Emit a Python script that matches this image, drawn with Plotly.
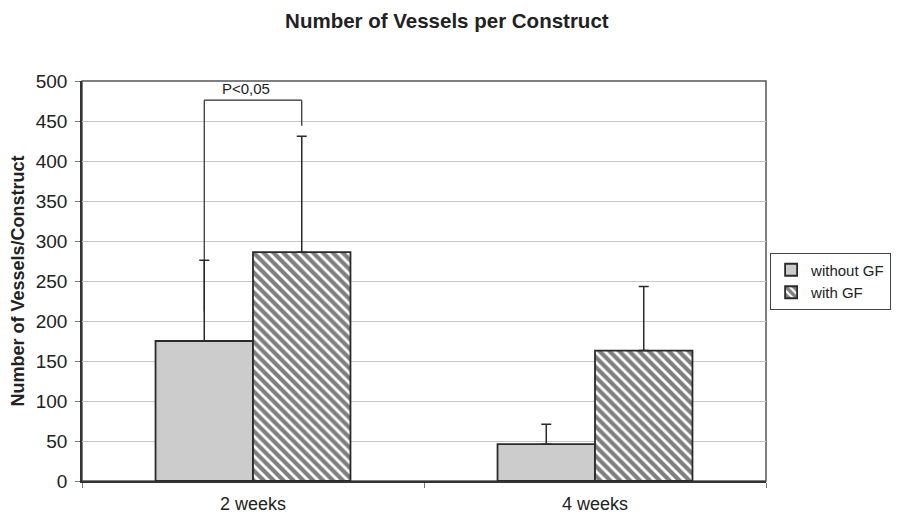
import plotly.graph_objects as go

categories = ["2 weeks", "4 weeks"]
without_gf = [175, 46]
without_gf_err = [101, 25]
with_gf = [286, 163]
with_gf_err = [145, 80]
series_names = ["without GF", "with GF"]
y_ticks = [0, 50, 100, 150, 200, 250, 300, 350, 400, 450, 500]
# significance bracket: left foot, top, right foot (data values)
bracket_vals = [212, 476, 444]
bracket_label = "P<0,05"

FONT = "Liberation Sans, Arial, sans-serif"
EDGE = "#2a2a2a"

fig = go.Figure()
fig.add_trace(go.Bar(
    x=categories, y=without_gf, name=series_names[0],
    marker=dict(color="#cccccc", line=dict(color=EDGE, width=1.8)),
    error_y=dict(type="data", array=without_gf_err, arrayminus=[0, 0], symmetric=False,
                 color=EDGE, thickness=1.5, width=5),
))
fig.add_trace(go.Bar(
    x=categories, y=with_gf, name=series_names[1],
    marker=dict(color="white", line=dict(color=EDGE, width=1.8),
                pattern=dict(shape="\\", fgcolor="#000000", bgcolor="white", size=7, solidity=0.6)),
    error_y=dict(type="data", array=with_gf_err, arrayminus=[0, 0], symmetric=False,
                 color=EDGE, thickness=1.5, width=5),
))

bargap = 0.43
off = (1 - bargap) / 4
xl, xr = -off, off
line = dict(color=EDGE, width=1.2)
fig.add_shape(type="line", x0=xl, x1=xl, y0=bracket_vals[0], y1=bracket_vals[1], line=line)
fig.add_shape(type="line", x0=xl, x1=xr, y0=bracket_vals[1], y1=bracket_vals[1], line=line)
fig.add_shape(type="line", x0=xr, x1=xr, y0=bracket_vals[1], y1=bracket_vals[2], line=line)
fig.add_annotation(x=-0.02, y=bracket_vals[1], text=bracket_label, showarrow=False,
                   yanchor="bottom", yshift=1, font=dict(size=15, color="#222", family=FONT))

# plot border
fig.add_shape(type="rect", xref="paper", yref="paper", x0=0, x1=1, y0=0, y1=1,
              line=dict(color="#555", width=1.5), layer="below")

# page body has an 8px default margin; figure sized so the plot lands where the reference has it
fig.update_layout(
    width=892, height=506,
    paper_bgcolor="white", plot_bgcolor="white",
    margin=dict(l=74, r=134, t=73, b=33, autoexpand=False),
    barmode="group", bargap=bargap, bargroupgap=0,
    title=dict(text="<b>Number of Vessels per Construct</b>", x=0.492, xanchor="center",
               y=1 - 13 / 506, yanchor="middle", font=dict(size=20.5, family=FONT, color="#222")),
    font=dict(family=FONT, color="#222", size=18),
    legend=dict(x=1.006, y=0.5, xanchor="left", yanchor="middle",
                bordercolor="#444", borderwidth=1, font=dict(size=15),
                tracegroupgap=2, itemwidth=30),
    showlegend=True,
)
fig.update_xaxes(
    type="category", showgrid=False, tickson="boundaries", ticks="outside", ticklen=5,
    tickcolor="#777", showline=True, linecolor="#333", linewidth=1.5,
    tickfont=dict(size=18), automargin=False, ticklabelstandoff=6,
)
fig.update_yaxes(
    range=[0, 500], tickvals=y_ticks, showgrid=True, gridcolor="#c8c8c8", gridwidth=1,
    ticks="outside", ticklen=5, tickcolor="#777", showline=True, linecolor="#333", linewidth=1.5,
    title=dict(text="<b>Number of Vessels/Construct</b>", font=dict(size=18), standoff=10),
    tickfont=dict(size=19), zeroline=False, automargin=False, ticklabelstandoff=4,
)

fig.write_html("out.html")
